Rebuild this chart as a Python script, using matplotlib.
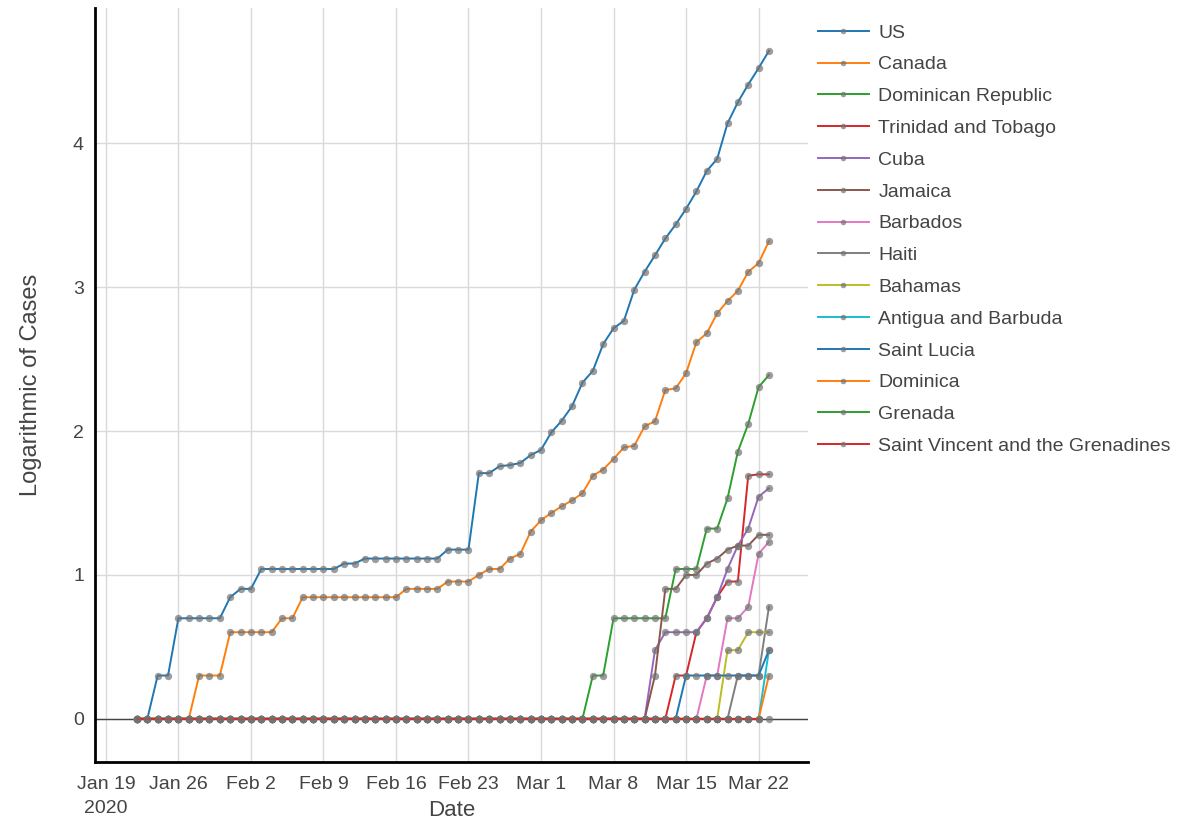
import numpy as np
import pandas as pd
import matplotlib
matplotlib.use("Agg")
import matplotlib.pyplot as plt
from matplotlib.lines import Line2D

plt.rcParams['font.family'] = ['Liberation Sans', 'DejaVu Sans']

# daily confirmed cases, Jan 22 .. Mar 23 2020 (62 days)
dates = pd.date_range('2020-01-22', '2020-03-23', freq='D')

countries = ['US', 'Canada', 'Dominican Republic', 'Trinidad and Tobago', 'Cuba',
             'Jamaica', 'Barbados', 'Haiti', 'Bahamas', 'Antigua and Barbuda',
             'Saint Lucia', 'Dominica', 'Grenada', 'Saint Vincent and the Grenadines']

us = [1, 1, 2, 2, 5, 5, 5, 5, 5, 7,
      8, 8, 11, 11, 11, 11, 11, 11, 11, 11, 12, 12, 13, 13, 13, 13, 13, 13, 13, 13,
      15, 15, 15, 51, 51, 57, 58, 60, 68,
      74, 98, 118, 149, 217, 262, 402, 518, 583, 959, 1281, 1663, 2179, 2727,
      3499, 4632, 6421, 7783, 13747, 19273, 25600, 33276, 43847]
canada = [0, 0, 0, 0, 1, 1, 2, 2, 2, 4,
          4, 4, 4, 4, 5, 5, 7, 7, 7, 7, 7, 7, 7, 7, 7, 7,
          8, 8, 8, 8, 9, 9, 9, 10, 11, 11, 13, 14, 20,
          24, 27, 30, 33, 37, 49, 54, 64, 77, 79, 108, 117, 193, 198,
          252, 415, 478, 657, 800, 943, 1277, 1469, 2088]
dominican = [0, 0, 0, 0, 0, 0, 0, 0, 0, 0,
             0, 0, 0, 0, 0, 0, 0, 0, 0, 0, 0, 0, 0, 0, 0, 0, 0, 0, 0,
             0, 0, 0, 0, 0, 0, 0, 0, 0, 0,
             1, 1, 1, 1, 1, 2, 2, 5, 5, 5, 5, 5, 5, 11,
             11, 11, 21, 21, 34, 72, 112, 202, 245]
trinidad = [0] * 10 + [0] * 29 + [0, 0, 0, 0, 0, 0, 0, 0, 0, 0, 0, 0, 1,
                                   2, 2, 4, 5, 7, 9, 9, 49, 50, 50]
cuba = [0] * 10 + [0] * 29 + [0, 0, 0, 0, 0, 0, 0, 0, 0, 0, 1, 3, 4,
                               4, 4, 4, 5, 7, 11, 16, 21, 35, 40]
jamaica = [0] * 10 + [0] * 29 + [0, 0, 0, 0, 0, 0, 0, 0, 0, 0, 1, 2, 8,
                                  8, 10, 10, 12, 13, 15, 16, 16, 19, 19]
barbados = [0] * 10 + [0] * 29 + [0, 0, 0, 0, 0, 0, 0, 0, 0, 0, 0, 0, 0,
                                   0, 0, 0, 2, 2, 5, 5, 6, 14, 17]
haiti = [0] * 10 + [0] * 29 + [0, 0, 0, 0, 0, 0, 0, 0, 0, 0, 0, 0, 0,
                                0, 0, 0, 0, 0, 0, 2, 2, 2, 6]
bahamas = [0] * 10 + [0] * 29 + [0, 0, 0, 0, 0, 0, 0, 0, 0, 0, 0, 0, 0,
                                  0, 0, 1, 1, 1, 3, 3, 4, 4, 4]
antigua = [0] * 10 + [0] * 29 + [0, 0, 0, 0, 0, 0, 0, 0, 0, 0, 0, 0, 1,
                                  1, 1, 1, 1, 1, 1, 1, 1, 1, 3]
saint_lucia = [0] * 10 + [0] * 29 + [0, 0, 0, 0, 0, 0, 0, 0, 0, 0, 0, 0, 0,
                                      1, 2, 2, 2, 2, 2, 2, 2, 2, 3]
dominica = [0] * 10 + [0] * 29 + [0, 0, 0, 0, 0, 0, 0, 0, 0, 0, 0, 0, 0,
                                   0, 0, 0, 0, 0, 0, 0, 0, 1, 2]
grenada = [0] * 10 + [0] * 29 + [0, 0, 0, 0, 0, 0, 0, 0, 0, 0, 0, 0, 0,
                                  0, 0, 0, 0, 0, 0, 0, 0, np.nan, 1]
st_vincent = [0] * 10 + [0] * 29 + [0, 0, 0, 0, 0, 0, 0, 0, 0, 0, 1, 1, 1,
                                     1, 1, 1, 1, 1, 1, 1, 1, 1, np.nan]

series = [us, canada, dominican, trinidad, cuba, jamaica, barbados, haiti,
          bahamas, antigua, saint_lucia, dominica, grenada, st_vincent]

colors = ['#1f77b4', '#ff7f0e', '#2ca02c', '#d62728', '#9467bd', '#8c564b',
          '#e377c2', '#7f7f7f', '#bcbd22', '#17becf', '#1f77b4', '#ff7f0e',
          '#2ca02c', '#d62728']

tick_dates = pd.date_range('2020-01-19', periods=10, freq='7D')
tick_labels = ['Jan 19\n2020', 'Jan 26', 'Feb 2', 'Feb 9', 'Feb 16', 'Feb 23',
               'Mar 1', 'Mar 8', 'Mar 15', 'Mar 22']

marker_grey = (0.45, 0.45, 0.45, 0.7)

fig = plt.figure(figsize=(12, 8.35), dpi=100)
ax = fig.add_axes([95 / 1200, 73 / 835, 713 / 1200, 754 / 835])

for vals, col in zip(series, colors):
    c = np.array(vals, dtype=float)
    y = np.log10(np.where(c > 0, c, 1.0))
    y[np.isnan(c)] = np.nan
    ax.plot(dates, y, color=col, lw=1.4, marker='o', ms=5.3,
            mfc=marker_grey, mec='none', zorder=3)

# axes styling (plotly-like)
ax.set_xlim(dates[0] - pd.Timedelta(days=4.05), dates[0] + pd.Timedelta(days=64.77))
ax.set_ylim(-0.30, 4.94)
ax.set_xticks(tick_dates)
ax.set_xticklabels(tick_labels, linespacing=1.55)
ax.set_yticks([0, 1, 2, 3, 4])
ax.tick_params(length=0, labelsize=14, labelcolor='#444444')
ax.tick_params(axis='x', pad=10)
ax.tick_params(axis='y', pad=8)
ax.grid(True, color='#d9d9d9', lw=1)
ax.axhline(0, color='#444444', lw=1, zorder=2)
for s in ['top', 'right']:
    ax.spines[s].set_visible(False)
for s in ['left', 'bottom']:
    ax.spines[s].set_color('black')
    ax.spines[s].set_linewidth(2)
ax.set_xlabel('Date', fontsize=16, color='#444444')
ax.xaxis.set_label_coords(0.5, -0.05)
ax.set_ylabel('Logarithmic of Cases', fontsize=17, color='#444444')
ax.yaxis.set_label_coords(-0.075, 0.5)

handles = [Line2D([0], [0], color=col, lw=1.4, marker='o', ms=4,
                  mfc=marker_grey, mec='none') for col in colors]
fig.legend(handles, countries, loc='upper left', bbox_to_anchor=(818 / 1200, 1 - 24 / 835),
           frameon=False, fontsize=14, borderpad=0, borderaxespad=0,
           handlelength=2.6, handletextpad=0.5, labelspacing=0.73,
           labelcolor='#444444')

fig.savefig('out.png', dpi=100)
